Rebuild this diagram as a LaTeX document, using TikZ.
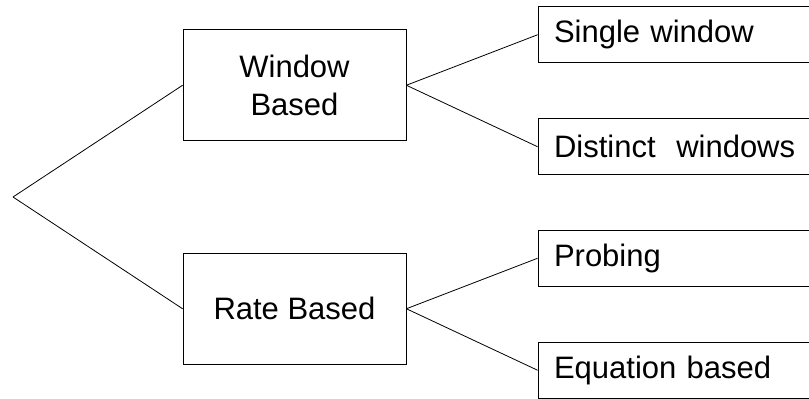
\documentclass[tikz,border=0pt]{standalone}
\usepackage{fontspec}
\setmainfont{Liberation Sans}
\usepackage{tikz}

\begin{document}
\begin{tikzpicture}[x=1pt, y=1pt, line width=0.8pt, grow'=right,
    every node/.style={draw, font=\fontsize{31}{38}\selectfont},
    level 1/.style={level distance=281.5pt, sibling distance=223.5pt},
    level 2/.style={level distance=379.5pt, sibling distance=112pt},
    kind/.style={minimum width=223pt, minimum height=111pt, align=center},
    leafbox/.style={yshift=-5.5pt, minimum height=56pt, text width=240pt, inner xsep=16pt,
      align=left, execute at begin node={\hyphenpenalty=10000\hbadness=10000\hfuzz=20pt}},
    edge from parent path={(\tikzparentnode.east) -- (\tikzchildnode.west)}]

    \useasboundingbox (0,0) rectangle (809,-399);

    \node[coordinate] (root) at (13,-197) {}
      child { node[kind] (window) {Window\\Based}
        child { node[leafbox] (single) {Single window} }
        child { node[leafbox] (distinct) {Distinct~~windows} }
      }
      child { node[kind] (rate) {Rate Based}
        child { node[leafbox] (probing) {Probing} }
        child { node[leafbox] (equation) {Equation based} }
      };
  \end{tikzpicture}
\end{document}
